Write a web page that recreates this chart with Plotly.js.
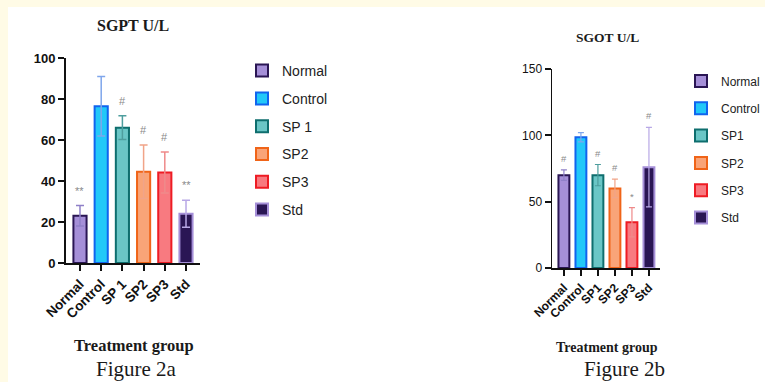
<!DOCTYPE html>
<html>
<head>
<meta charset="utf-8">
<script src="https://cdn.plot.ly/plotly-3.0.1.min.js"></script>
<style>html,body{margin:0;padding:0;background:#fffbe6;}#chart{width:765px;height:382px;}</style>
</head>
<body>
<div id="chart"></div>
<script>
// ---- data ----
const groupsA = ["Normal", "Control", "SP 1", "SP2", "SP3", "Std"];
const sgptMean = [23, 76.5, 66, 44.5, 44.2, 24];
const sgptErr = [5, 14.5, 5.8, 13, 10, 6.6];
const sgptSig = ["**", "", "#", "#", "#", "**"];

const groupsB = ["Normal", "Control", "SP1", "SP2", "SP3", "Std"];
const sgotMean = [70, 98.5, 70, 60, 34.5, 76];
const sgotErr = [4, 3.5, 8, 7, 11, 30];
const sgotSig = ["#", "", "#", "#", "*", "#"];

const legendA = ["Normal", "Control", "SP 1", "SP2", "SP3", "Std"];
const legendB = ["Normal", "Control", "SP1", "SP2", "SP3", "Std"];

const ticksA = [0, 20, 40, 60, 80, 100];
const ticksB = [0, 50, 100, 150];

// ---- styles ----
const fills = ["#a58fd8", "#22c8f8", "#6ac6c6", "#f9a478", "#f87a80", "#2a1654"];
const lines = ["#2a1654", "#1064ee", "#0e6e6e", "#f06418", "#ee1c24", "#a58fd8"];
const errCols = ["#8f80c8", "#7fa6ec", "#4e9e9e", "#f1a488", "#ef8a8a", "#b8a8e6"];

const traces = [];
groupsA.forEach((g, i) => {
  traces.push({
    type: "bar", x: [g], y: [sgptMean[i]], name: legendA[i],
    xaxis: "x", yaxis: "y", width: 0.62, legend: "legend", legendgroup: "a" + i,
    marker: {color: fills[i], line: {color: lines[i], width: 2}},
    error_y: {type: "data", array: [sgptErr[i]], visible: true, color: errCols[i], thickness: 1.5, width: 4}
  });
});
groupsB.forEach((g, i) => {
  traces.push({
    type: "bar", x: [g], y: [sgotMean[i]], name: legendB[i],
    xaxis: "x2", yaxis: "y2", width: 0.64, legend: "legend2", legendgroup: "b" + i,
    marker: {color: fills[i], line: {color: lines[i], width: 2}},
    error_y: {type: "data", array: [sgotErr[i]], visible: true, color: errCols[i], thickness: 1.2, width: 3}
  });
});

const annotations = [];
groupsA.forEach((g, i) => {
  if (sgptSig[i]) annotations.push({
    xref: "x", yref: "y", x: g, y: sgptMean[i] + sgptErr[i], yanchor: "bottom", yshift: 7,
    text: sgptSig[i], showarrow: false, font: {family: "Liberation Sans", size: 11, color: "#8a8a8a"}
  });
});
groupsB.forEach((g, i) => {
  if (sgotSig[i]) annotations.push({
    xref: "x2", yref: "y2", x: g, y: sgotMean[i] + sgotErr[i], yanchor: "bottom", yshift: 4,
    text: sgotSig[i], showarrow: false, font: {family: "Liberation Sans", size: 9.5, color: "#8a8a8a"}
  });
});
const serif = "Liberation Serif";
function paperText(x, y, text, size, bold) {
  return {xref: "paper", yref: "paper", x: x/765, y: 1 - y/382, xanchor: "center", yanchor: "middle",
          text: text, showarrow: false,
          font: {family: serif, size: size, weight: bold ? "bold" : "normal", color: "#1a1a1a"}};
}
annotations.push(
  paperText(133, 25, "SGPT U/L", 16, true),
  paperText(607, 38, "SGOT U/L", 13.5, true),
  paperText(134, 345, "Treatment group", 16.5, true),
  paperText(607, 347, "Treatment group", 14, true),
  paperText(136, 369, "Figure 2a", 21, false),
  paperText(624, 369, "Figure 2b", 21, false)
);

const axCommon = {
  showgrid: false, zeroline: false, showline: true, linecolor: "#111", linewidth: 2,
  ticks: "outside", tickcolor: "#111", tickwidth: 2, ticklen: 6, fixedrange: true
};

const layout = {
  width: 765, height: 382,
  margin: {l: 0, r: 0, t: 0, b: 0, autoexpand: false},
  paper_bgcolor: "#fffbe6", plot_bgcolor: "rgba(0,0,0,0)",
  barmode: "overlay",
  showlegend: true,
  shapes: [{type: "rect", xref: "paper", yref: "paper", x0: 8/765, x1: 1, y0: 0, y1: 1 - 7/382,
            fillcolor: "#ffffff", line: {width: 0}, layer: "below"}],
  xaxis: Object.assign({}, axCommon, {
    domain: [66/765, 200/765], range: [-0.66, 5.66], type: "category",
    tickangle: -45, tickfont: {family: "Liberation Sans", size: 13.5, weight: "bold", color: "#111"}, anchor: "y"
  }),
  yaxis: Object.assign({}, axCommon, {
    domain: [(382-263)/382, (382-58)/382], range: [0, 100], tickvals: ticksA,
    tickfont: {family: "Liberation Sans", size: 13, weight: "bold", color: "#111"}, anchor: "x"
  }),
  xaxis2: Object.assign({}, axCommon, {
    domain: [552/765, 660/765], range: [-0.7, 5.65], type: "category", linewidth: 2,
    tickangle: -45, tickfont: {family: "Liberation Sans", size: 12, weight: "bold", color: "#111"}, anchor: "y2"
  }),
  yaxis2: Object.assign({}, axCommon, {
    domain: [(382-268)/382, (382-69)/382], range: [0, 150], tickvals: ticksB, linewidth: 1.5,
    tickfont: {family: "Liberation Sans", size: 12, color: "#111"}, anchor: "x2"
  }),
  legend: {x: 242/765, y: 1 - 55/382, xanchor: "left", yanchor: "top", bgcolor: "rgba(0,0,0,0)",
           font: {family: "Liberation Sans", size: 14, color: "#222"}, tracegroupgap: 6.6, traceorder: "grouped"},
  legend2: {x: 681/765, y: 1 - 66.5/382, xanchor: "left", yanchor: "top", bgcolor: "rgba(0,0,0,0)",
           font: {family: "Liberation Sans", size: 12, color: "#222"}, tracegroupgap: 8.3, traceorder: "grouped"},
  annotations: annotations
};

Plotly.newPlot("chart", traces, layout, {staticPlot: true, displayModeBar: false});
</script>
</body>
</html>
